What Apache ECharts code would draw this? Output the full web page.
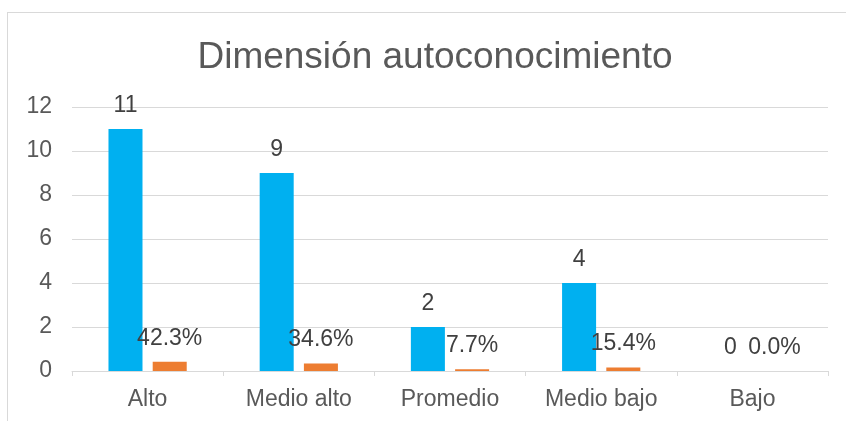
<!DOCTYPE html>
<html>
<head>
<meta charset="utf-8">
<script src="https://cdn.jsdelivr.net/npm/echarts@6/dist/echarts.min.js"></script>
<style>
html,body{margin:0;padding:0;background:#fff;}
#frame{position:absolute;left:7px;top:12px;width:900px;height:500px;border:1px solid #D9D9D9;box-sizing:border-box;}
#chart{position:absolute;left:0;top:0;width:846px;height:421px;}
</style>
</head>
<body>
<div id="frame"></div>
<div id="chart"></div>
<script>
const categories = ['Alto', 'Medio alto', 'Promedio', 'Medio bajo', 'Bajo'];
const counts = [11, 9, 2, 4, 0];
const percents = [0.423, 0.346, 0.077, 0.154, 0.0];
const yTicks = [0, 2, 4, 6, 8, 10, 12];

const chart = echarts.init(document.getElementById('chart'), null, {renderer: 'canvas'});
const font = 'Liberation Sans, Arial, sans-serif';
chart.setOption({
  animation: false,
  title: {
    text: 'Dimensión autoconocimiento',
    left: 430, textAlign: 'center', top: 34,
    textStyle: {fontFamily: font, fontSize: 37, fontWeight: 'normal', color: '#595959'}
  },
  grid: {left: 72, right: 18, top: 107, bottom: 50, containLabel: false},
  xAxis: {
    type: 'category', data: categories,
    axisLine: {lineStyle: {color: '#D9D9D9', width: 1}},
    axisTick: {show: true, length: 5, lineStyle: {color: '#D9D9D9'}},
    axisLabel: {fontFamily: font, fontSize: 23, color: '#595959', margin: 17}
  },
  yAxis: {
    type: 'value', min: yTicks[0], max: yTicks[yTicks.length - 1], interval: 2,
    axisLine: {show: false}, axisTick: {show: false},
    splitLine: {lineStyle: {color: '#D9D9D9', width: 1}},
    axisLabel: {fontFamily: font, fontSize: 23, color: '#595959', margin: 20}
  },
  series: [
    {
      type: 'bar', data: counts, barWidth: '22.5%', barGap: '30%',
      itemStyle: {color: '#00B0F0'},
      label: {show: true, position: 'top', distance: 12, fontFamily: font, fontSize: 23, color: '#404040'}
    },
    {
      type: 'bar', data: percents, barWidth: '22.5%',
      itemStyle: {color: '#ED7D31'},
      label: {show: true, position: 'top', distance: 12, fontFamily: font, fontSize: 23, color: '#404040',
        formatter: p => (p.value * 100).toFixed(1) + '%'}
    }
  ]
});
</script>
</body>
</html>
